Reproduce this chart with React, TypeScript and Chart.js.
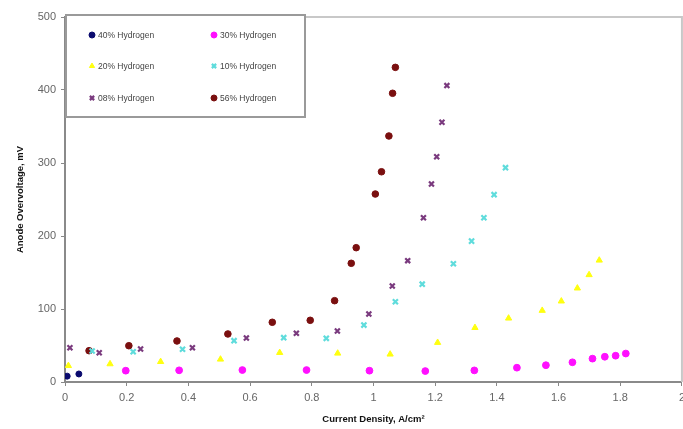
import React, { useEffect, useRef } from "react";
import { Chart, registerables } from "chart.js";
import { drawPoint } from "chart.js/helpers";

Chart.register(...registerables);

const seriesLabels = [
  "40% Hydrogen",
  "30% Hydrogen",
  "20% Hydrogen",
  "10% Hydrogen",
  "08% Hydrogen",
  "56% Hydrogen",
];

const h40x = [0.007, 0.045];
const h40y = [8, 11];

const h30x = [0.197, 0.37, 0.575, 0.783, 0.987, 1.168, 1.327, 1.465, 1.559, 1.645, 1.71, 1.75, 1.785, 1.818];
const h30y = [15.5, 16, 16.4, 16.4, 15.5, 15, 15.9, 19.6, 23, 27, 32, 34.6, 36, 39];

const h20x = [0.011, 0.146, 0.31, 0.504, 0.696, 0.884, 1.054, 1.208, 1.329, 1.438, 1.547, 1.609, 1.661, 1.699, 1.732];
const h20y = [22.3, 24.7, 27.8, 31.1, 40.2, 39.3, 38, 54, 74.4, 87.3, 97.9, 110.7, 128.5, 146.8, 166.7];

const h10x = [0.088, 0.221, 0.381, 0.548, 0.709, 0.847, 0.969, 1.071, 1.158, 1.259, 1.318, 1.358, 1.391, 1.428];
const h10y = [42.5, 41.5, 44.8, 56.6, 60.7, 59.8, 78, 110, 134, 162, 193, 225, 256.6, 293.6];

const h08x = [0.016, 0.111, 0.245, 0.413, 0.588, 0.75, 0.883, 0.985, 1.061, 1.111, 1.162, 1.188, 1.205, 1.222, 1.238];
const h08y = [47, 40.1, 45.2, 47, 60.3, 66.7, 69.9, 93.2, 131.5, 166.2, 225, 271.2, 308.6, 355.8, 406];

const h56x = [0.078, 0.207, 0.363, 0.528, 0.672, 0.795, 0.874, 0.928, 0.944, 1.006, 1.026, 1.05, 1.062, 1.071];
const h56y = [42.9, 49.7, 56.2, 65.8, 81.8, 84.5, 111.4, 162.6, 184, 257.5, 288, 337, 395.5, 431];

const xTicks = [0, 0.2, 0.4, 0.6, 0.8, 1, 1.2, 1.4, 1.6, 1.8, 2];
const yTicks = [0, 100, 200, 300, 400, 500];

const xTitle = "Current Density, A/cm²";
const yTitle = "Anode Overvoltage, mV";

const toPts = (xs: number[], ys: number[]) => xs.map((x, i) => ({ x, y: ys[i] }));

const styles = [
  { color: "#0a0a6e", style: "circle", radius: 3, bw: 1 },
  { color: "#ff10ff", style: "circle", radius: 3.4, bw: 1 },
  { color: "#ffff10", style: "triangle", radius: 3.6, bw: 1 },
  { color: "#5fdcdc", style: "crossRot", radius: 3.6, bw: 2.2 },
  { color: "#7a3a7e", style: "crossRot", radius: 3.5, bw: 2.2 },
  { color: "#7a0f0f", style: "circle", radius: 3.3, bw: 1 },
];

const legendPlugin = {
  id: "boxLegend",
  afterDraw(chart: any) {
    const ctx = chart.ctx;
    const area = chart.chartArea;
    ctx.save();
    ctx.strokeStyle = "#c8c8c8";
    ctx.lineWidth = 2;
    ctx.beginPath();
    ctx.moveTo(area.left, area.top);
    ctx.lineTo(area.right, area.top);
    ctx.lineTo(area.right, area.bottom);
    ctx.stroke();
    const bx = 66, by = 15, bw = 239, bh = 102;
    ctx.fillStyle = "#ffffff";
    ctx.fillRect(bx, by, bw, bh);
    ctx.strokeStyle = "#9a9a9a";
    ctx.lineWidth = 2;
    ctx.strokeRect(bx, by, bw, bh);
    const cols = [92, 214];
    const rows = [35, 66, 98];
    ctx.font = "8.5px 'Liberation Sans', Arial, sans-serif";
    ctx.textBaseline = "middle";
    ctx.textAlign = "left";
    chart.data.datasets.forEach((ds: any, i: number) => {
      const cx = cols[i % 2];
      const cy = rows[Math.floor(i / 2)];
      const st = styles[i];
      ctx.fillStyle = st.color;
      ctx.strokeStyle = st.color;
      ctx.lineWidth = st.bw;
      drawPoint(ctx, { pointStyle: st.style, radius: 3, rotation: 0, borderWidth: st.bw } as any, cx, cy);
      ctx.fillStyle = "#444444";
      ctx.fillText(ds.label, cx + 6, cy + 0.5);
    });
    ctx.restore();
  },
};

export default function App() {
  const ref = useRef<HTMLCanvasElement>(null);
  useEffect(() => {
    if (!ref.current) return;
    const sets = [
      toPts(h40x, h40y),
      toPts(h30x, h30y),
      toPts(h20x, h20y),
      toPts(h10x, h10y),
      toPts(h08x, h08y),
      toPts(h56x, h56y),
    ];
    const chart = new Chart(ref.current, {
      type: "scatter",
      data: {
        datasets: sets.map((d, i) => ({
          label: seriesLabels[i],
          data: d,
          pointStyle: styles[i].style as any,
          pointRadius: styles[i].radius,
          pointBackgroundColor: styles[i].color,
          pointBorderColor: styles[i].color,
          pointBorderWidth: styles[i].bw,
          showLine: false,
        })),
      },
      options: {
        animation: false,
        responsive: true,
        maintainAspectRatio: false,
        layout: { padding: { top: 17, right: 0, left: 0, bottom: 0 } },
        plugins: { legend: { display: false }, tooltip: { enabled: false } },
        scales: {
          x: {
            type: "linear",
            min: 0,
            max: 2,
            afterBuildTicks: (s: any) => {
              s.ticks = xTicks.map((v) => ({ value: v }));
            },
            afterFit: (s: any) => {
              s.height = 47;
            },
            ticks: {
              color: "#666",
              font: { family: "'Liberation Sans', Arial, sans-serif", size: 11 },
              padding: 5,
              maxRotation: 0,
              callback: (v: any) => String(v),
            },
            grid: { display: true, drawOnChartArea: false, drawTicks: true, tickLength: 4, color: "#888" },
            border: { display: true, color: "#8a8a8a", width: 2 },
            title: {
              display: true,
              text: xTitle,
              color: "#111",
              font: { family: "'Liberation Sans', Arial, sans-serif", size: 9.5, weight: "bold" },
              padding: { top: 0, bottom: 4 },
            },
          },
          y: {
            type: "linear",
            min: 0,
            max: 500,
            afterBuildTicks: (s: any) => {
              s.ticks = yTicks.map((v) => ({ value: v }));
            },
            afterFit: (s: any) => {
              s.width = 65;
            },
            ticks: {
              color: "#666",
              font: { family: "'Liberation Sans', Arial, sans-serif", size: 11 },
              padding: 5,
            },
            grid: { display: true, drawOnChartArea: false, drawTicks: true, tickLength: 4, color: "#888" },
            border: { display: true, color: "#8a8a8a", width: 2 },
            title: {
              display: true,
              text: yTitle,
              color: "#111",
              font: { family: "'Liberation Sans', Arial, sans-serif", size: 9.5, weight: "bold" },
              padding: { top: 15, bottom: 0 },
            },
          },
        },
      },
      plugins: [legendPlugin],
    });
    return () => chart.destroy();
  }, []);
  return (
    <div style={{ position: "fixed", left: 0, top: 0, width: 690, height: 429, background: "#fff" }}>
      <canvas ref={ref} />
    </div>
  );
}
